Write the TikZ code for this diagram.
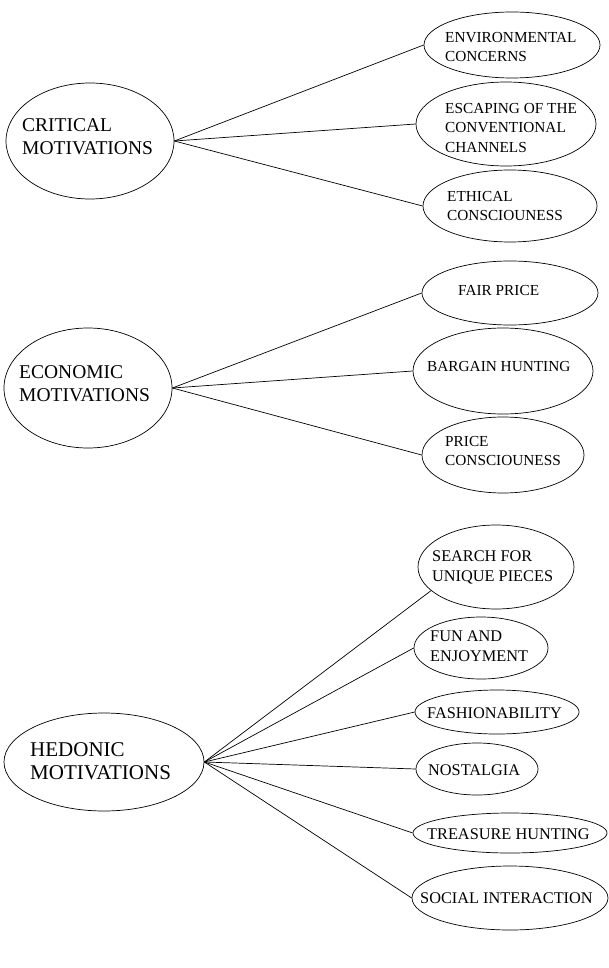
\documentclass[tikz,border=0pt]{standalone}
\usepackage{fontspec}
\setmainfont{Liberation Serif}
\usetikzlibrary{shapes.geometric}
\begin{document}
\begin{tikzpicture}[x=1pt,y=-1pt,
  oval/.style={draw,ellipse,inner sep=0pt,line width=0.7pt},
  bigtxt/.style={anchor=west,align=left,inner sep=0pt,font=\fontsize{19.5}{23}\selectfont},
  hedtxt/.style={anchor=west,align=left,inner sep=0pt,font=\fontsize{21}{23}\selectfont},
  smtxt/.style={anchor=west,align=left,inner sep=0pt,font=\fontsize{15.3}{19.5}\selectfont},
  hsmtxt/.style={anchor=west,align=left,inner sep=0pt,font=\fontsize{16.3}{20}\selectfont},
  link/.style={line width=0.7pt}]
\useasboundingbox[fill=white] (0,0) rectangle (609,968);

% Critical group
\node[oval,minimum width=168pt,minimum height=116pt] (crit) at (90,141) {};
\node[bigtxt] (critt) at (22,137) {CRITICAL\\MOTIVATIONS};
\node[oval,minimum width=176pt,minimum height=66pt] (env) at (512,45) {};
\node[smtxt] (envt) at (445,47) {ENVIRONMENTAL\\CONCERNS};
\node[oval,minimum width=180pt,minimum height=84pt] (esc) at (506,124) {};
\node[smtxt] (esct) at (445,128) {ESCAPING OF THE\\CONVENTIONAL\\CHANNELS};
\node[oval,minimum width=174pt,minimum height=72pt] (eth) at (510,206) {};
\node[smtxt] (etht) at (447,206) {ETHICAL\\CONSCIOUNESS};
\draw[link] (crit.east) -- (env.west);
\draw[link] (crit.east) -- (esc.west);
\draw[link] (crit.east) -- (eth.west);

% Economic group
\node[oval,minimum width=168pt,minimum height=120pt] (eco) at (88,388) {};
\node[bigtxt] (ecot) at (19,384) {ECONOMIC\\MOTIVATIONS};
\node[oval,minimum width=176pt,minimum height=64pt] (fair) at (510,293) {};
\node[smtxt] (fairt) at (458,291) {FAIR PRICE};
\node[oval,minimum width=180pt,minimum height=86pt] (barg) at (503,371) {};
\node[smtxt] (bargt) at (427,367) {BARGAIN HUNTING};
\node[oval,minimum width=162pt,minimum height=76pt] (pric) at (503,455) {};
\node[smtxt] (prict) at (445,451) {PRICE\\CONSCIOUNESS};
\draw[link] (eco.east) -- (fair.west);
\draw[link] (eco.east) -- (barg.west);
\draw[link] (eco.east) -- (pric.west);

% Hedonic group
\node[oval,minimum width=200pt,minimum height=98pt] (hed) at (104,762) {};
\node[hedtxt] (hedt) at (30,761) {HEDONIC\\MOTIVATIONS};
\node[oval,minimum width=156pt,minimum height=84pt] (srch) at (496,567) {};
\node[hsmtxt] (srcht) at (432,567) {SEARCH FOR\\UNIQUE PIECES};
\node[oval,minimum width=134pt,minimum height=62pt] (fun) at (481,648) {};
\node[hsmtxt] (funt) at (430,646) {FUN AND\\ENJOYMENT};
\node[oval,minimum width=164pt,minimum height=44pt] (fash) at (497,712) {};
\node[hsmtxt] (fasht) at (427,713) {FASHIONABILITY};
\node[oval,minimum width=122pt,minimum height=52pt] (nost) at (477,769) {};
\node[hsmtxt] (nostt) at (428,770) {NOSTALGIA};
\node[oval,minimum width=194pt,minimum height=40pt] (trea) at (510,833) {};
\node[hsmtxt] (treat) at (427,834) {TREASURE HUNTING};
\node[oval,minimum width=196pt,minimum height=64pt] (soc) at (510,898) {};
\node[hsmtxt] (soct) at (420,898) {SOCIAL INTERACTION};
\draw[link] (hed.east) -- (srch.200);
\draw[link] (hed.east) -- (fun.west);
\draw[link] (hed.east) -- (fash.west);
\draw[link] (hed.east) -- (nost.west);
\draw[link] (hed.east) -- (trea.west);
\draw[link] (hed.east) -- (soc.west);
\end{tikzpicture}
\end{document}
